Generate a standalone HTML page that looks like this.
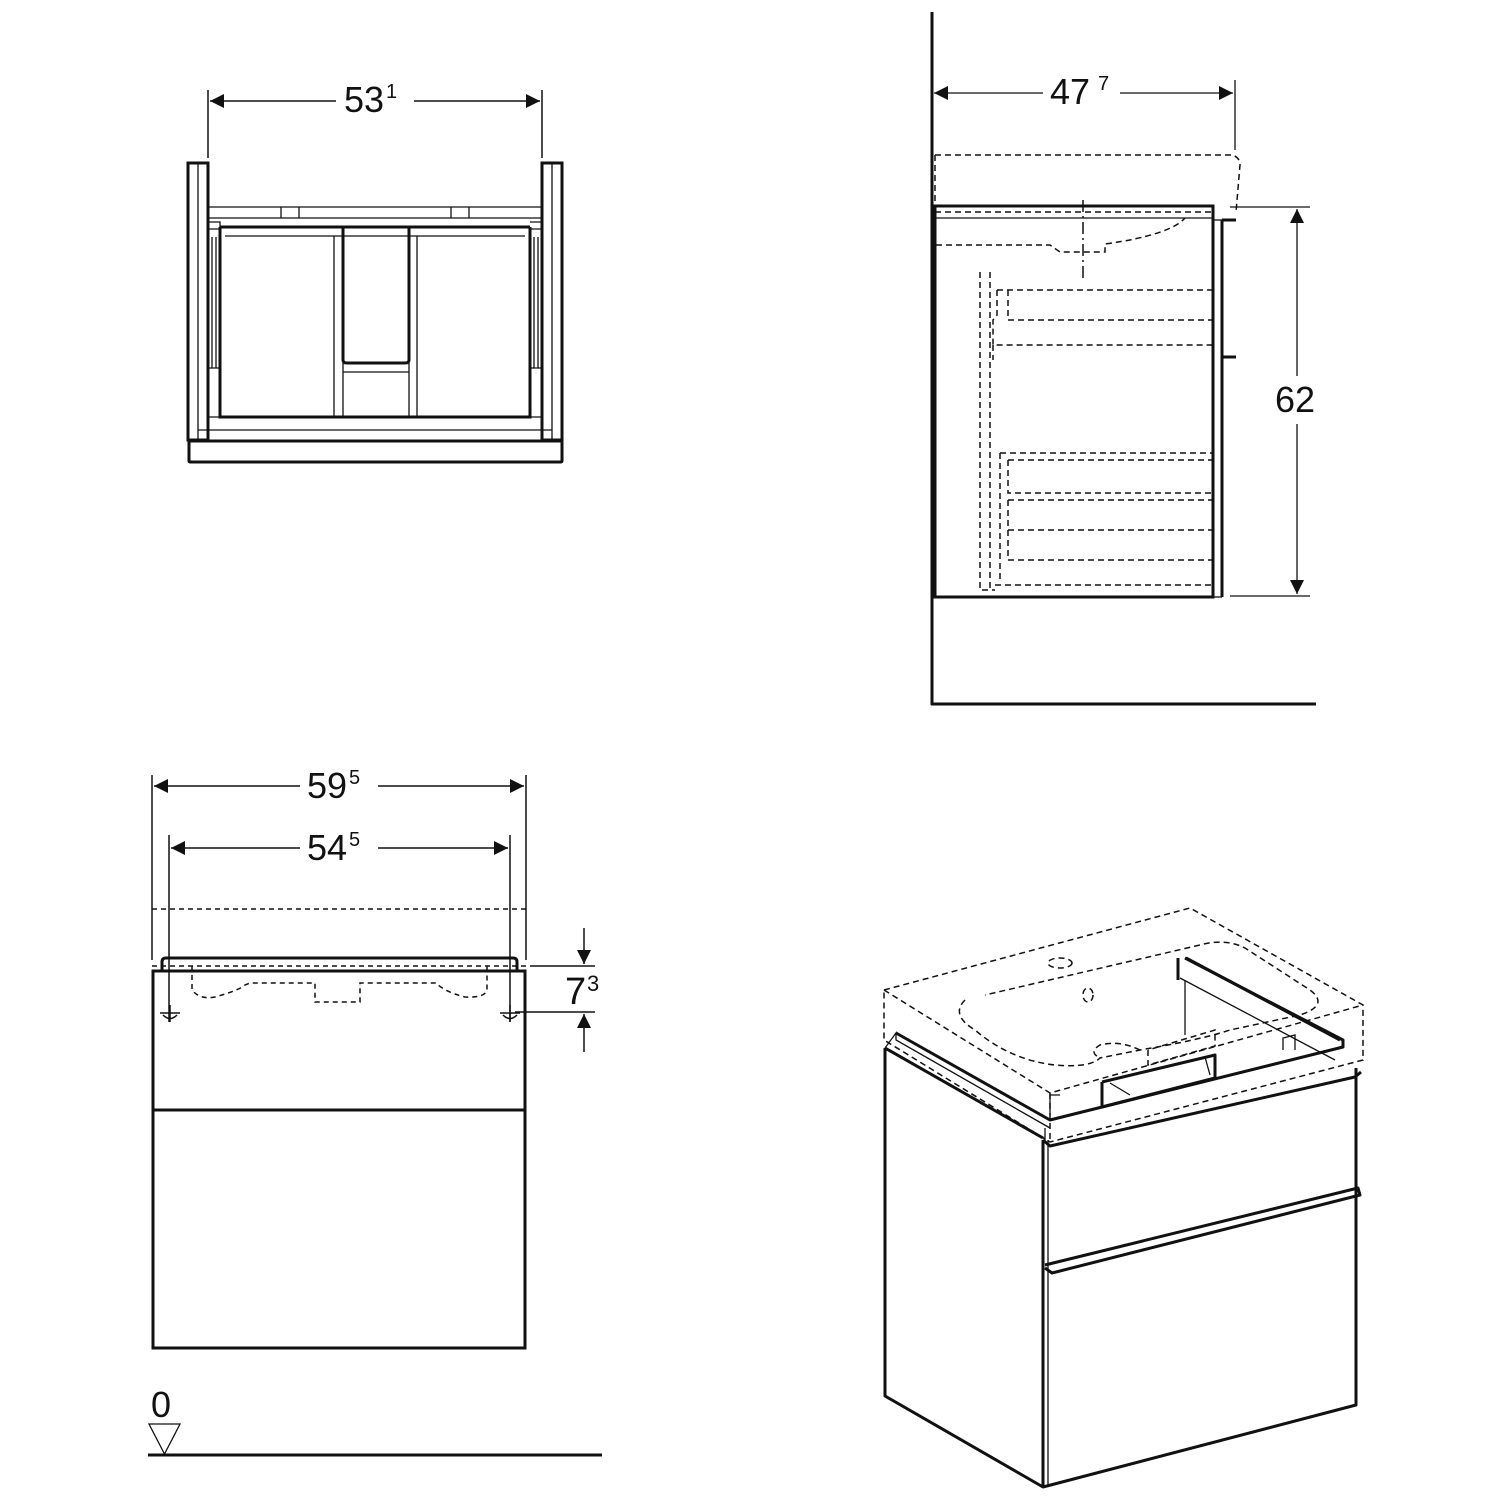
<!DOCTYPE html>
<html><head><style>html,body{margin:0;padding:0;background:#fff}svg{display:block}text{font-family:"Liberation Sans",sans-serif;fill:#111}</style></head>
<body>
<svg width="1500" height="1500" viewBox="0 0 1500 1500" xmlns="http://www.w3.org/2000/svg" fill="none" stroke="#111">
<defs>
<marker id="a" viewBox="0 0 10 10" refX="10" refY="5" markerWidth="26" markerHeight="14" markerUnits="userSpaceOnUse" orient="auto-start-reverse"><path d="M0,0L10,5L0,10Z" fill="#111" stroke="none"/></marker>
</defs>

<!-- ===== Top-left plan view ===== -->
<g stroke-width="1.5">
<line x1="208" y1="90" x2="208" y2="158"/><line x1="542" y1="90" x2="542" y2="158"/>
<line x1="210" y1="101" x2="336" y2="101" marker-start="url(#a)"/>
<line x1="414" y1="101" x2="540" y2="101" marker-end="url(#a)"/>
</g>
<text x="344" y="112" font-size="36" stroke="none">53</text><text x="386" y="98" font-size="20" stroke="none">1</text>
<g stroke-width="3">
<rect x="188" y="163" width="20" height="277"/><rect x="542" y="163" width="20" height="277"/>
<rect x="189" y="441" width="373" height="21" rx="1"/>
<path d="M220 227 H530 M220 227 V417 H530 V227"/>
<path d="M343 228 V360 Q343 363 347 363 H405 Q409 363 409 360 V228"/>
</g>
<g stroke-width="1.3">
<line x1="208" y1="207" x2="542" y2="207"/><line x1="208" y1="218" x2="542" y2="218"/>
<line x1="281" y1="207" x2="281" y2="218"/><line x1="299" y1="207" x2="299" y2="218"/>
<line x1="451" y1="207" x2="451" y2="218"/><line x1="469" y1="207" x2="469" y2="218"/>
<line x1="225" y1="236" x2="525" y2="236"/>
<line x1="334" y1="236" x2="334" y2="417"/><line x1="343" y1="363" x2="343" y2="417"/>
<line x1="409" y1="363" x2="409" y2="417"/><line x1="417" y1="236" x2="417" y2="417"/>
<line x1="343" y1="372" x2="409" y2="372"/>
<line x1="198" y1="163" x2="198" y2="440"/><line x1="552" y1="163" x2="552" y2="440"/>
<line x1="198" y1="430" x2="552" y2="430"/>
<line x1="208" y1="417" x2="542" y2="417"/>
<path d="M208 368 H220 M530 368 H542"/>
<line x1="212" y1="237" x2="212" y2="368"/><line x1="216" y1="237" x2="216" y2="368"/>
<line x1="534" y1="237" x2="534" y2="368"/><line x1="538" y1="237" x2="538" y2="368"/>
<path d="M208 222 H220 V229 H208 M530 222 H542 M530 229 H542"/>
</g>

<!-- ===== Top-right side view ===== -->
<g stroke-width="3">
<line x1="932" y1="12" x2="932" y2="705"/><line x1="931" y1="704" x2="1316" y2="704"/>
<rect x="935" y="206" width="278" height="391"/>
<line x1="1222" y1="220" x2="1222" y2="597"/>
<line x1="1222" y1="220" x2="1236" y2="220"/><line x1="1222" y1="357" x2="1236" y2="357"/>
</g>
<g stroke-width="1.3">
<line x1="1213" y1="220" x2="1222" y2="220"/><line x1="1213" y1="597" x2="1222" y2="597"/>
<line x1="936" y1="218" x2="1213" y2="218"/>
<line x1="1235" y1="80" x2="1235" y2="150"/>
<line x1="934" y1="93" x2="1043" y2="93" marker-start="url(#a)"/>
<line x1="1120" y1="93" x2="1233" y2="93" marker-end="url(#a)"/>
<line x1="1230" y1="207" x2="1310" y2="207"/><line x1="1230" y1="596" x2="1310" y2="596"/>
<line x1="1297" y1="209" x2="1297" y2="376" marker-start="url(#a)"/>
<line x1="1297" y1="424" x2="1297" y2="594" marker-end="url(#a)"/>
</g>
<text x="1050" y="104" font-size="36" stroke="none">47</text><text x="1098" y="90" font-size="20" stroke="none">7</text>
<text x="1275" y="412" font-size="36" stroke="none">62</text>
<g stroke-width="1.5" stroke-dasharray="6,4">
<path d="M935 155 H1233 Q1240 158 1240 165 L1236 212"/>
<line x1="935" y1="155" x2="935" y2="206"/>
<line x1="935" y1="212" x2="1213" y2="212"/>
<path d="M936 245 H1050 L1060 252 H1105 V244 Q1170 235 1185 218"/>
<line x1="1083" y1="200" x2="1083" y2="282" stroke-dasharray="12,4,2,4"/>
<path d="M980 272 V590 H995 M990 272 V590"/>
<path d="M997 290 H1213 M1008 290 V320 H1213 M997 290 V315 L993 320 V345 H1213 M993 345 V360"/>
<path d="M1000 453 H1213 M1008 460 H1213 M1000 453 V580 M1008 460 V493 H1213 M1008 500 H1213 M1008 500 V530 H1213 M1008 530 V560 H1213 M995 585 H1213 V560"/>
</g>

<!-- ===== Bottom-left front view ===== -->
<g stroke-width="1.5">
<line x1="152" y1="775" x2="152" y2="960"/><line x1="526" y1="775" x2="526" y2="960"/>
<line x1="169" y1="835" x2="169" y2="1022"/><line x1="510" y1="835" x2="510" y2="1022"/>
<line x1="154" y1="786" x2="300" y2="786" marker-start="url(#a)"/>
<line x1="378" y1="786" x2="524" y2="786" marker-end="url(#a)"/>
<line x1="171" y1="848" x2="300" y2="848" marker-start="url(#a)"/>
<line x1="378" y1="848" x2="508" y2="848" marker-end="url(#a)"/>
<line x1="530" y1="966" x2="595" y2="966"/><line x1="515" y1="1012" x2="595" y2="1012"/>
<line x1="584" y1="928" x2="584" y2="964" marker-end="url(#a)"/>
<line x1="584" y1="1052" x2="584" y2="1014" marker-end="url(#a)"/>
<path d="M160 1013 H180 M170 1005 V1022 M163 1015 Q170 1022 177 1015"/>
<path d="M500 1013 H520 M510 1005 V1022 M503 1015 Q510 1022 517 1015"/>
</g>
<text x="307" y="798" font-size="36" stroke="none">59</text><text x="349" y="784" font-size="20" stroke="none">5</text>
<text x="307" y="860" font-size="36" stroke="none">54</text><text x="349" y="846" font-size="20" stroke="none">5</text>
<text x="565" y="1004" font-size="38" stroke="none">7</text><text x="587" y="991" font-size="22" stroke="none">3</text>
<g stroke-width="3">
<rect x="153" y="971" width="372" height="377"/>
<line x1="153" y1="1110" x2="525" y2="1110"/>
<path d="M162 971 V962 Q162 958 166 958 H513 Q517 958 517 962 V971"/>
<line x1="148" y1="1455" x2="602" y2="1455"/>
</g>
<g stroke-width="1.5" stroke-dasharray="5,4">
<line x1="152" y1="909" x2="526" y2="909"/>
<line x1="152" y1="966" x2="526" y2="966"/>
<path d="M192 966 V990 Q200 1000 215 997 Q240 990 245 985 L250 983 H315 V1002 H360 V983 H436 Q445 992 465 997 Q485 998 487 990 V966"/>
</g>
<path d="M149 1424 H180 L164.5 1454 Z" stroke-width="1.3"/>
<text x="151" y="1417" font-size="36" stroke="none">0</text>

<!-- ===== Iso view ===== -->
<g stroke-width="3" stroke-linejoin="round">
<path d="M885 1048 V1396 L1043 1487 L1356 1405 V1068"/>
<line x1="1043" y1="1140" x2="1043" y2="1487"/>
<path d="M1043 1140 L1050 1146 L1355 1077 L1361 1072"/>
<path d="M1045 1268 L1052 1273 L1360 1195 L1358 1188 L1045 1265"/>
<path d="M885 1048 L1043 1138"/>
<path d="M896 1033 L1050 1120 L1343 1047 V1040 L1185 958"/>
<path d="M1178 958 V980 M1186 958 L1340 1040"/>
<path d="M1102 1082 V1107 L1215 1078 V1055 L1102 1082"/>
</g>
<g stroke-width="1.3">
<line x1="1048" y1="1140" x2="1048" y2="1487"/>
<path d="M885 1048 L896 1033 V1040 L1050 1128"/>
<line x1="1180" y1="978" x2="1335" y2="1060"/>
<line x1="1185" y1="980" x2="1185" y2="1035"/>
<path d="M1045 1128 V1140"/>
<path d="M1060 1095 H1050 V1115 M1283 1050 V1038 L1295 1035 V1050"/>
<line x1="1110" y1="1083" x2="1130" y2="1095"/>
<line x1="1205" y1="1057" x2="1210" y2="1075"/>
</g>
<g stroke-width="1.5" stroke-dasharray="6,4">
<path d="M884 990 L1190 908 L1363 1005 V1060 L1050 1142 L884 1040 Z"/>
<path d="M884 990 L1050 1093 L1363 1005"/>
<path d="M1050 1093 V1142"/>
<path d="M965 1000 Q950 1015 975 1030 Q1010 1060 1055 1065 Q1090 1068 1100 1058 L1140 1050 Q1200 1040 1230 1030 L1300 1015 Q1330 1005 1310 990 L1245 948 Q1225 938 1200 945 L985 995"/>
<path d="M1140 1050 Q1120 1040 1100 1045 Q1088 1052 1100 1058"/>
<ellipse cx="1060" cy="963" rx="12" ry="5"/>
<ellipse cx="1088" cy="995" rx="5" ry="7"/>
<path d="M1148 1050 V1065 L1215 1046 V1030 L1148 1050"/>
</g>
</svg>
</body></html>
